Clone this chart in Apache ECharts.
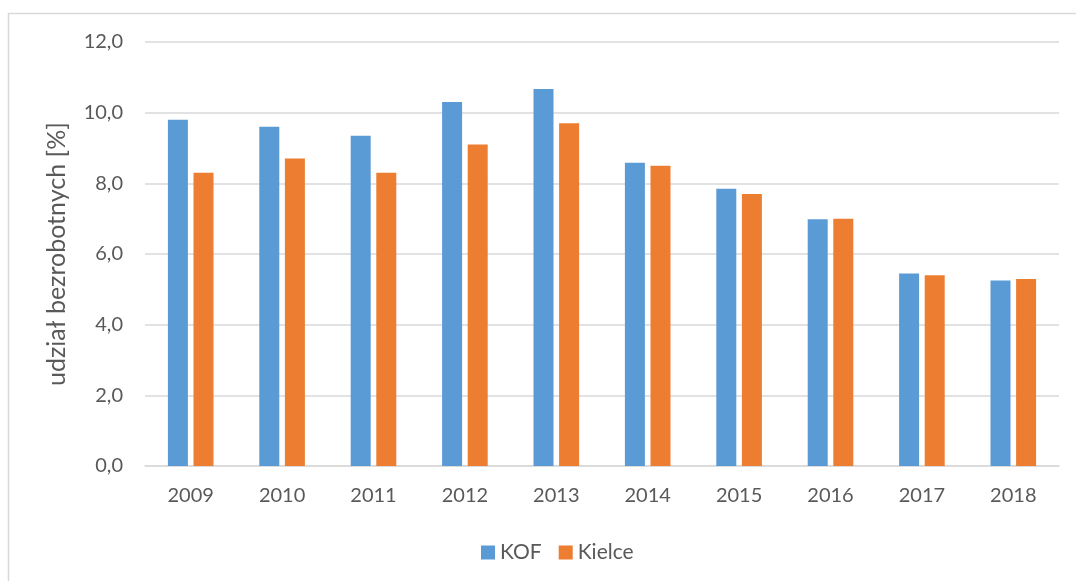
<!DOCTYPE html>
<html>
<head>
<meta charset="utf-8">
<script src="https://cdn.jsdelivr.net/npm/echarts@6/dist/echarts.min.js"></script>
<style>
html,body{margin:0;padding:0;background:#fff;}
#c{width:1076px;height:581px;}
</style>
</head>
<body>
<div id="c"></div>
<script>
const categories = ['2009','2010','2011','2012','2013','2014','2015','2016','2017','2018'];
const kof = [9.8, 9.6, 9.35, 10.3, 10.67, 8.58, 7.85, 6.98, 5.45, 5.25];
const kielce = [8.3, 8.7, 8.3, 9.1, 9.7, 8.5, 7.7, 7.0, 5.4, 5.29];
const seriesNames = ['KOF', 'Kielce'];
const yTicks = {min: 0, max: 12, interval: 2};
const yName = 'udział bezrobotnych [%]';

const font = 'Lato, "Open Sans", sans-serif';
const textColor = '#595959';
const chart = echarts.init(document.getElementById('c'), null, {renderer: 'canvas'});
chart.setOption({
  animation: false,
  backgroundColor: '#fff',
  graphic: [{
    type: 'rect',
    shape: {x: 8.5, y: 13.5, width: 1200, height: 700},
    style: {fill: 'none', stroke: '#d9d9d9', lineWidth: 1.5},
    silent: true
  }],
  grid: {left: 145, right: 17, top: 42, bottom: 115, containLabel: false},
  legend: {
    data: seriesNames,
    top: 537,
    left: 476,
    itemWidth: 14,
    itemHeight: 14,
    itemGap: 17,
    icon: 'rect',
    textStyle: {color: textColor, fontSize: 21, fontFamily: font}
  },
  xAxis: {
    type: 'category',
    data: categories,
    axisLine: {lineStyle: {color: '#d9d9d9', width: 1.5}},
    axisTick: {show: false},
    axisLabel: {color: textColor, fontSize: 20, fontFamily: font, margin: 20}
  },
  yAxis: {
    type: 'value',
    min: yTicks.min, max: yTicks.max, interval: yTicks.interval,
    name: yName,
    nameLocation: 'middle',
    nameGap: 76,
    nameRotate: 90,
    nameTextStyle: {color: textColor, fontSize: 25, fontFamily: font},
    axisLine: {show: false},
    axisTick: {show: false},
    axisLabel: {
      color: textColor, fontSize: 20, fontFamily: font, margin: 22,
      formatter: v => v.toFixed(1).replace('.', ',')
    },
    splitLine: {lineStyle: {color: '#d9d9d9', width: 1.5}}
  },
  series: [
    {name: seriesNames[0], type: 'bar', data: kof, barWidth: 20, barGap: '28%',
     itemStyle: {color: '#5B9BD5'}},
    {name: seriesNames[1], type: 'bar', data: kielce, barWidth: 20,
     itemStyle: {color: '#ED7D31'}}
  ]
});
</script>
</body>
</html>
